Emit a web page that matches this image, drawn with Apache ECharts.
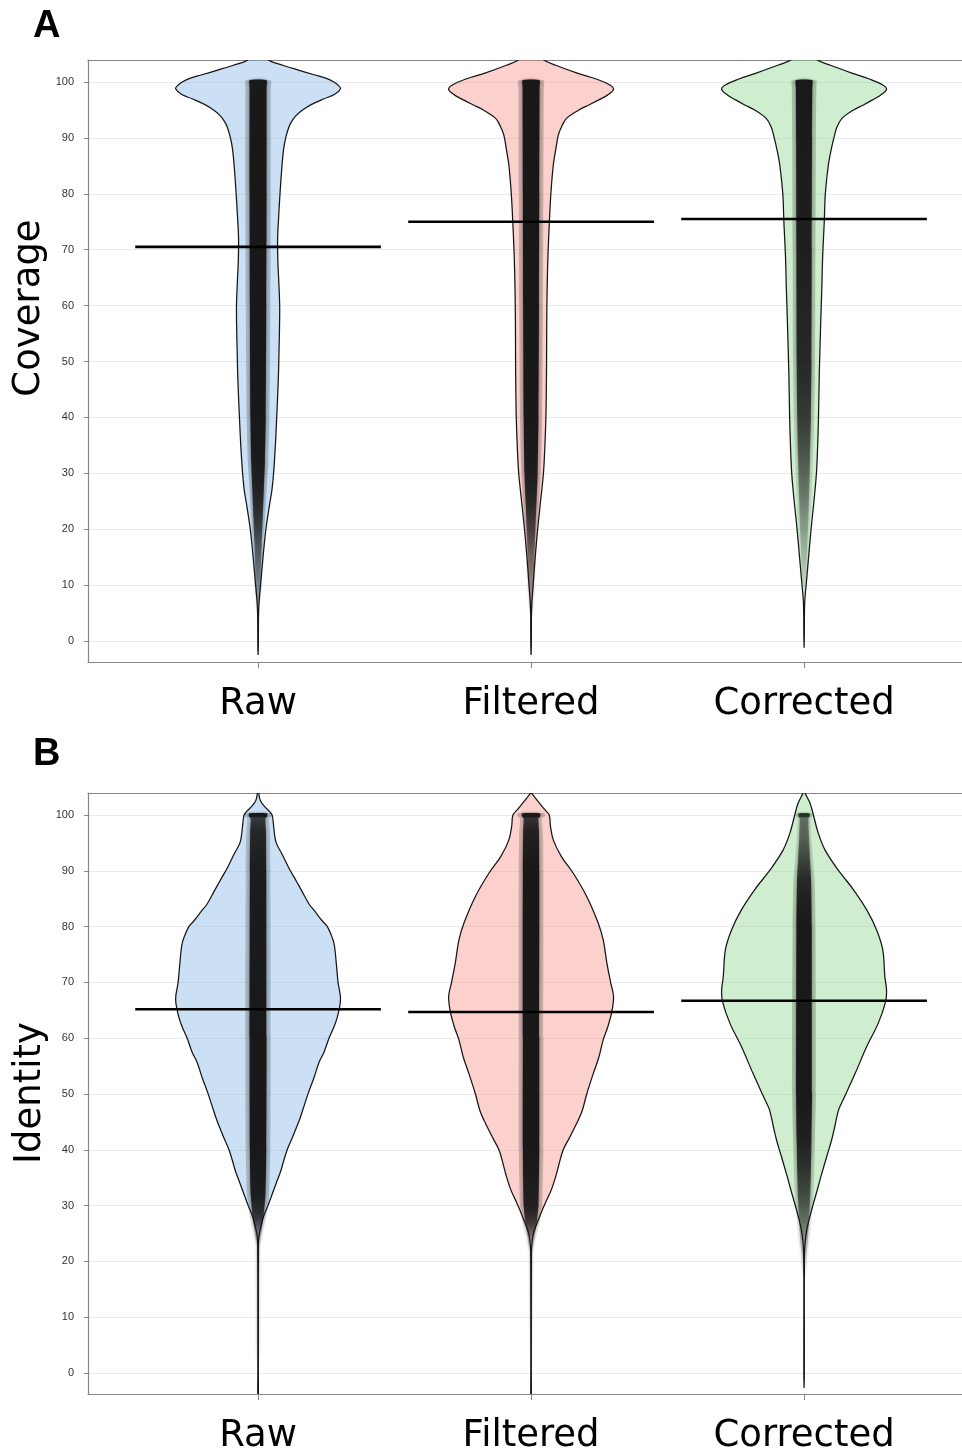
<!DOCTYPE html>
<html>
<head>
<meta charset="utf-8">
<script src="https://cdn.jsdelivr.net/npm/echarts@6/dist/echarts.min.js"></script>
<style>
  html, body { margin: 0; padding: 0; background: #ffffff; }
  #chart { width: 962px; height: 1450px; }
</style>
</head>
<body>
<div id="chart"></div>
<script>
// ---- categories, ticks and summary values ----
const groups = ['Raw', 'Filtered', 'Corrected'];
const yTicks = [0, 10, 20, 30, 40, 50, 60, 70, 80, 90, 100];
const coverageMeans = [70.5, 75.0, 75.5];
const identityMeans = [65.2, 64.7, 66.7];

// ---- violin outlines: relative density (1 = widest point) at each value level ----
const covRawLevels    = [107, 105.5, 104, 103, 102.1, 101.3, 100.7, 100, 99.3, 98.8, 97.8, 97, 96, 95, 94, 93, 92, 90, 88, 85, 80, 76, 72, 68, 64, 60, 56, 52, 48, 44, 40, 35, 30, 27, 24, 20, 15, 10, 7, 5, 2, -1, -2.5];
const covRawDensity   = [0.02, 0.06, 0.12, 0.3, 0.5, 0.68, 0.82, 0.92, 0.98, 1.0, 0.93, 0.8, 0.65, 0.54, 0.46, 0.41, 0.375, 0.335, 0.31, 0.29, 0.266, 0.25, 0.237, 0.24, 0.252, 0.262, 0.26, 0.254, 0.248, 0.238, 0.226, 0.21, 0.188, 0.168, 0.135, 0.095, 0.06, 0.03, 0.012, 0.006, 0.004, 0.003, 0.0];

const covFiltLevels   = [107, 105.5, 104, 103, 101.6, 100.5, 99.5, 98.7, 97.7, 96.8, 95.9, 95, 93.5, 92, 90.5, 88, 85.2, 80, 75, 69, 63, 57, 50, 45, 40, 35, 30, 25, 20, 15, 10, 7, 5, 2, -1, -2.5];
const covFiltDensity  = [0.02, 0.07, 0.15, 0.3, 0.56, 0.8, 0.95, 1.0, 0.93, 0.82, 0.7, 0.58, 0.43, 0.37, 0.33, 0.3, 0.27, 0.24, 0.222, 0.205, 0.195, 0.19, 0.188, 0.185, 0.18, 0.168, 0.15, 0.115, 0.08, 0.05, 0.025, 0.01, 0.005, 0.004, 0.003, 0.0];

const covCorrLevels   = [107, 105.5, 104, 103, 101.6, 100.5, 99.5, 98.7, 97.7, 96.8, 95.9, 95, 93.5, 92, 90.5, 88, 85.2, 80, 75, 69, 63, 57, 48, 40, 35, 30, 25, 20, 15, 10, 7, 4, 1, -1.2];
const covCorrDensity  = [0.02, 0.07, 0.155, 0.32, 0.58, 0.8, 0.95, 1.0, 0.93, 0.83, 0.72, 0.6, 0.46, 0.4, 0.37, 0.33, 0.295, 0.258, 0.245, 0.226, 0.215, 0.202, 0.185, 0.175, 0.165, 0.15, 0.12, 0.085, 0.055, 0.025, 0.008, 0.004, 0.003, 0.0];

const idRawLevels     = [104.5, 103.5, 102.5, 101.5, 100.7, 100, 98.5, 96.5, 95, 93, 90.6, 88, 86.4, 84, 82.9, 81, 80, 78, 76.7, 73.2, 70, 67, 64, 62, 60, 57.5, 55.7, 53, 50.2, 47.5, 45.3, 42, 40.1, 38, 36.2, 34, 31.4, 30, 28, 26, 24.4, 22, 10, 0, -4.5];
const idRawDensity    = [0.006, 0.012, 0.03, 0.08, 0.135, 0.17, 0.185, 0.2, 0.22, 0.29, 0.37, 0.47, 0.53, 0.62, 0.68, 0.78, 0.84, 0.9, 0.925, 0.95, 0.97, 1.0, 0.965, 0.92, 0.86, 0.8, 0.74, 0.68, 0.61, 0.55, 0.5, 0.41, 0.355, 0.31, 0.275, 0.22, 0.155, 0.12, 0.065, 0.03, 0.01, 0.004, 0.003, 0.003, 0.003];

const idFiltLevels    = [104.5, 104, 102.7, 100.9, 100, 98, 95.5, 92.5, 89.6, 85.4, 80.6, 77.6, 73.4, 70, 67.5, 64.8, 62, 59.7, 56.5, 53.7, 50, 47, 44.8, 42, 40, 37.5, 35.8, 33, 31, 29, 27.5, 25.1, 22.7, 20, 10, 0, -4.5];
const idFiltDensity   = [0.003, 0.005, 0.07, 0.17, 0.22, 0.235, 0.27, 0.37, 0.51, 0.675, 0.815, 0.875, 0.92, 0.965, 1.0, 0.98, 0.93, 0.875, 0.82, 0.755, 0.675, 0.62, 0.555, 0.46, 0.39, 0.34, 0.31, 0.25, 0.19, 0.13, 0.09, 0.03, 0.008, 0.004, 0.003, 0.003, 0.003];

const idCorrLevels    = [104.5, 104, 102.1, 100, 96.7, 93.7, 90.1, 86.6, 83, 79.4, 75.8, 71, 68.7, 66.6, 62.7, 58.5, 53.7, 49, 47.2, 44, 41.8, 38.8, 35.5, 32.8, 29.3, 25.7, 23.3, 20, 10, 0, -2.7];
const idCorrDensity   = [0.003, 0.01, 0.073, 0.113, 0.173, 0.255, 0.415, 0.6, 0.76, 0.88, 0.955, 0.98, 1.0, 0.99, 0.9, 0.76, 0.62, 0.475, 0.42, 0.37, 0.335, 0.275, 0.21, 0.16, 0.093, 0.033, 0.012, 0.004, 0.003, 0.003, 0.0];

// ---- jittered points: horizontal spread (x units) and darkness at each value level ----
const covRawPtsLevels  = [100.3, 99, 80, 60, 40, 32, 27, 22, 17, 12, 8, 5];
const covRawPtsSpread  = [0.031, 0.031, 0.031, 0.03, 0.028, 0.025, 0.021, 0.017, 0.013, 0.01, 0.007, 0.003];
const covRawPtsShade   = [1, 1, 1, 1, 1, 0.97, 0.9, 0.75, 0.55, 0.4, 0.25, 0];

const covFiltPtsLevels = [100.3, 99, 80, 60, 40, 30, 25, 20, 15, 10, 6, 4];
const covFiltPtsSpread = [0.031, 0.031, 0.03, 0.029, 0.027, 0.024, 0.02, 0.016, 0.012, 0.009, 0.006, 0.003];
const covFiltPtsShade  = [1, 1, 1, 1, 1, 0.95, 0.85, 0.65, 0.45, 0.3, 0.15, 0];

const covCorrPtsLevels = [100.3, 99, 90, 70, 50, 40, 33, 27, 22, 17, 12, 8];
const covCorrPtsSpread = [0.03, 0.03, 0.029, 0.028, 0.027, 0.025, 0.022, 0.019, 0.016, 0.012, 0.008, 0.004];
const covCorrPtsShade  = [1, 1, 0.97, 0.93, 0.85, 0.72, 0.55, 0.42, 0.3, 0.2, 0.1, 0];

const idRawPtsLevels   = [100.3, 99.7, 99.4, 97, 90, 60, 40, 32, 28, 25.5, 23, 15, 5, 1];
const idRawPtsSpread   = [0.033, 0.033, 0.027, 0.029, 0.03, 0.031, 0.03, 0.027, 0.02, 0.013, 0.008, 0.008, 0.008, 0.006];
const idRawPtsShade    = [1, 1, 0.7, 0.85, 0.95, 1, 1, 0.95, 0.75, 0.4, 0.12, 0.08, 0.06, 0];

const idFiltPtsLevels  = [100.3, 99.7, 99.4, 97, 90, 60, 40, 30, 27, 24.5, 22, 10, 1];
const idFiltPtsSpread  = [0.033, 0.033, 0.027, 0.029, 0.03, 0.03, 0.03, 0.027, 0.021, 0.013, 0.008, 0.007, 0.005];
const idFiltPtsShade   = [1, 1, 0.75, 0.9, 1, 1, 1, 0.92, 0.7, 0.35, 0.1, 0.06, 0];

const idCorrPtsLevels  = [100.3, 99.7, 99.4, 96, 92, 88, 80, 50, 42, 36, 31, 27, 24, 21, 17];
const idCorrPtsSpread  = [0.02, 0.02, 0.016, 0.018, 0.022, 0.026, 0.028, 0.029, 0.027, 0.025, 0.022, 0.018, 0.014, 0.01, 0.006];
const idCorrPtsShade   = [0.8, 0.8, 0.45, 0.5, 0.65, 0.85, 1, 1, 0.92, 0.75, 0.58, 0.42, 0.28, 0.15, 0];

// ---- drawing ----
const X_MIN = 0.377, X_MAX = 3.5785;   // plot runs off the right edge of the page
const Y_MIN = -3.76, Y_MAX = 103.94;
const VIOLIN_HALF = 0.302;   // half-width of a violin at its widest point
const MEAN_HALF = 0.45;      // half-length of the mean bar
const FRAME = '#858585';
const FILLS = ['rgba(125,178,228,0.40)', 'rgba(247,137,127,0.40)', 'rgba(135,212,135,0.40)'];

function violin(levels, density, ptsLevels, ptsSpread, ptsShade, mean) {
  return { levels, density, ptsLevels, ptsSpread, ptsShade, mean };
}

const coverageViolins = [
  violin(covRawLevels, covRawDensity, covRawPtsLevels, covRawPtsSpread, covRawPtsShade, coverageMeans[0]),
  violin(covFiltLevels, covFiltDensity, covFiltPtsLevels, covFiltPtsSpread, covFiltPtsShade, coverageMeans[1]),
  violin(covCorrLevels, covCorrDensity, covCorrPtsLevels, covCorrPtsSpread, covCorrPtsShade, coverageMeans[2])
];
const identityViolins = [
  violin(idRawLevels, idRawDensity, idRawPtsLevels, idRawPtsSpread, idRawPtsShade, identityMeans[0]),
  violin(idFiltLevels, idFiltDensity, idFiltPtsLevels, idFiltPtsSpread, idFiltPtsShade, identityMeans[1]),
  violin(idCorrLevels, idCorrDensity, idCorrPtsLevels, idCorrPtsSpread, idCorrPtsShade, identityMeans[2])
];

// closed outline: right side top-to-bottom, then left side bottom-to-top
function outline(api, cx, levels, halfWidths) {
  const right = levels.map((y, k) => api.coord([cx + halfWidths[k], y]));
  const left = levels.map((y, k) => api.coord([cx - halfWidths[k], y])).reverse();
  return right.concat(left);
}

function shadeGradient(api, cx, levels, shade, scale) {
  const top = api.coord([cx, levels[0]])[1];
  const bottom = api.coord([cx, levels[levels.length - 1]])[1];
  const stops = levels.map((y, k) => ({
    offset: Math.min(1, Math.max(0, (api.coord([cx, y])[1] - top) / (bottom - top))),
    color: 'rgba(22,22,22,' + (shade[k] * scale).toFixed(3) + ')'
  }));
  return new echarts.graphic.LinearGradient(0, 0, 0, 1, stops, false);
}

function violinSeries(gridIndex, violins) {
  return {
    type: 'custom',
    xAxisIndex: gridIndex * 2,
    yAxisIndex: gridIndex,
    clip: true,
    silent: true,
    data: violins.map((v, i) => [i + 1, v.mean]),
    renderItem(params, api) {
      const i = params.dataIndex;
      const v = violins[i];
      const cx = i + 1;
      const bodyPts = outline(api, cx, v.levels, v.density.map(d => d * VIOLIN_HALF));
      const haloPts = outline(api, cx, v.ptsLevels, v.ptsSpread.map(s => s * 1.5));
      const corePts = outline(api, cx, v.ptsLevels, v.ptsSpread);
      const m0 = api.coord([cx - MEAN_HALF, v.mean]);
      const m1 = api.coord([cx + MEAN_HALF, v.mean]);
      return {
        type: 'group',
        children: [
          { type: 'polygon', shape: { points: bodyPts, smooth: 0.35 },
            style: { fill: FILLS[i], stroke: '#161616', lineWidth: 1.25 } },
          { type: 'polygon', shape: { points: haloPts, smooth: 0.2 },
            style: { fill: shadeGradient(api, cx, v.ptsLevels, v.ptsShade, 0.22) } },
          { type: 'polygon', shape: { points: corePts, smooth: 0.2 },
            style: { fill: shadeGradient(api, cx, v.ptsLevels, v.ptsShade, 0.97),
                     shadowBlur: 3, shadowColor: 'rgba(0,0,0,0.45)' } },
          { type: 'line', shape: { x1: m0[0], y1: m0[1], x2: m1[0], y2: m1[1] },
            style: { stroke: '#000000', lineWidth: 2.6 } }
        ]
      };
    }
  };
}

// bottom axis with category ticks and labels
function xAxisFor(gridIndex) {
  return {
    type: 'value', gridIndex, min: X_MIN, max: X_MAX, position: 'bottom',
    axisLine: { show: true, onZero: false, lineStyle: { color: FRAME, width: 1.2 } },
    splitLine: { show: false },
    axisTick: { show: true, customValues: [1, 2, 3], length: 6, lineStyle: { color: FRAME, width: 1 } },
    axisLabel: {
      customValues: [1, 2, 3],
      formatter: v => groups[Math.round(v) - 1],
      fontFamily: '"DejaVu Sans"', fontSize: 37, color: '#000000', margin: 24
    }
  };
}

// top frame line of a panel
function topEdgeFor(gridIndex) {
  return {
    type: 'value', gridIndex, min: X_MIN, max: X_MAX, position: 'top',
    axisLine: { show: true, onZero: false, lineStyle: { color: FRAME, width: 1.2 } },
    axisTick: { show: false }, axisLabel: { show: false }, splitLine: { show: false }
  };
}

function yAxisFor(gridIndex) {
  return {
    type: 'value', gridIndex, min: Y_MIN, max: Y_MAX,
    axisLine: { show: true, onZero: false, lineStyle: { color: FRAME, width: 1.2 } },
    axisTick: { show: true, customValues: yTicks, length: 4, lineStyle: { color: FRAME, width: 1 } },
    axisLabel: { customValues: yTicks, fontFamily: '"Liberation Sans"', fontSize: 11, color: '#333333', margin: 14 },
    splitLine: { show: true, lineStyle: { color: '#ebebeb', width: 1 } }
  };
}

const chart = echarts.init(document.getElementById('chart'), null, { renderer: 'canvas' });
chart.setOption({
  animation: false,
  backgroundColor: '#ffffff',
  grid: [
    { left: 88, top: 60, width: 874, height: 602, outerBoundsMode: 'none', containLabel: false },
    { left: 88, top: 793, width: 874, height: 601, outerBoundsMode: 'none', containLabel: false }
  ],
  xAxis: [xAxisFor(0), topEdgeFor(0), xAxisFor(1), topEdgeFor(1)],
  yAxis: [yAxisFor(0), yAxisFor(1)],
  series: [violinSeries(0, coverageViolins), violinSeries(1, identityViolins)],
  graphic: [
    { type: 'text', x: 33, y: 27, style: { text: 'A', font: 'bold 38px "Liberation Sans"', fill: '#000', verticalAlign: 'middle' } },
    { type: 'text', x: 33, y: 755, style: { text: 'B', font: 'bold 38px "Liberation Sans"', fill: '#000', verticalAlign: 'middle' } },
    { type: 'text', x: 29, y: 308, rotation: Math.PI / 2,
      style: { text: 'Coverage', font: '37px "DejaVu Sans"', fill: '#000', align: 'center', verticalAlign: 'middle' } },
    { type: 'text', x: 30, y: 1093, rotation: Math.PI / 2,
      style: { text: 'Identity', font: '37px "DejaVu Sans"', fill: '#000', align: 'center', verticalAlign: 'middle' } }
  ]
});
</script>
</body>
</html>
